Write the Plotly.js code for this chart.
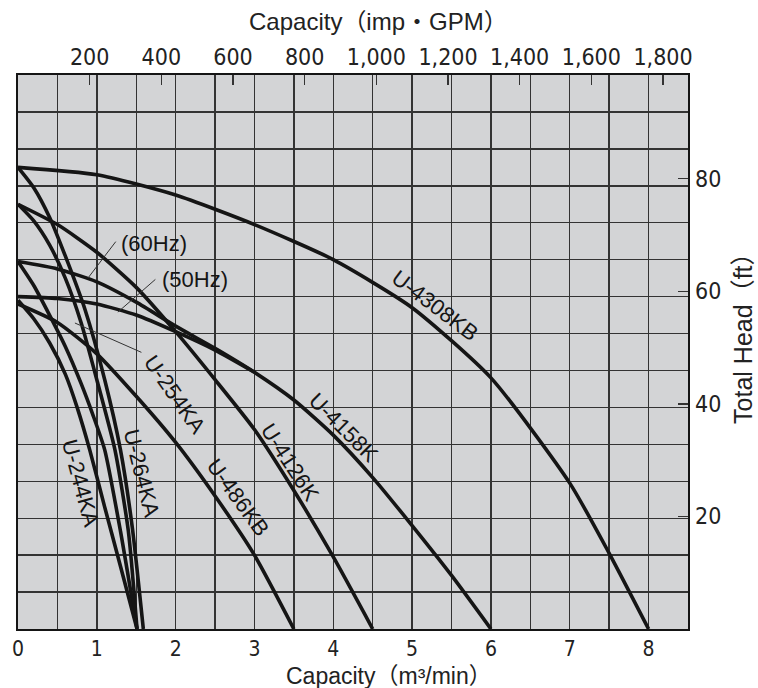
<!DOCTYPE html>
<html><head><meta charset="utf-8">
<script src="https://cdn.plot.ly/plotly-3.0.1.min.js"></script>
<style>html,body{margin:0;padding:0;background:#fff}</style>
</head><body><div id="chart" style="width:758px;height:688px"></div>
<script>
// unit conversions for secondary axes
const M3MIN_TO_IMPGPM = 219.969;
const M_TO_FT = 3.28084;
const X_MAX = 8.5;   // m3/min
const Y_MAX = 30;    // m (hidden primary axis)

// Capacity (m3/min) / Total head (m)
const q_U4308KB = [0, 1, 2, 3, 4, 5, 6, 7, 7.5, 8];
const h_U4308KB = [25.0, 24.6, 23.5, 21.9, 20.0, 17.4, 13.6, 7.9, 4.1, 0];

const q_U4158K_60 = [0, 0.5, 1, 1.5, 2, 2.5, 3, 3.5, 4, 4.5, 5, 5.5, 6];
const h_U4158K_60 = [19.9, 19.5, 18.8, 17.7, 16.4, 15.2, 13.9, 12.4, 10.5, 8.2, 5.6, 2.9, 0];

const q_U4158K_50 = [0, 0.5, 1, 1.5, 2, 2.5, 3];
const h_U4158K_50 = [18.0, 17.9, 17.6, 17.0, 16.1, 15.1, 13.9];

const q_U4126K = [0, 0.5, 1, 1.5, 2, 2.5, 3, 3.5, 4, 4.5];
const h_U4126K = [23.0, 21.9, 20.4, 18.5, 16.1, 13.5, 10.8, 7.5, 3.9, 0];

const q_U486KB = [0, 0.5, 1, 1.5, 2, 2.5, 3, 3.5];
const h_U486KB = [17.6, 16.6, 14.9, 12.6, 10.1, 7.2, 4.0, 0];

const q_U264KA = [0, 0.2, 0.4, 0.6, 0.85, 1.1, 1.3, 1.45, 1.59];
const h_U264KA = [25.0, 23.9, 22.3, 20.2, 17.3, 13.5, 9.7, 5.5, 0];

const q_U254KA = [0, 0.2, 0.4, 0.6, 0.8, 1.0, 1.23, 1.4, 1.51];
const h_U254KA = [23.0, 22.1, 20.8, 19.0, 16.6, 13.5, 9.7, 5.3, 0];

const q_U254KA_b = [0, 0.2, 0.4, 0.6, 0.8, 0.95, 1.1, 1.3, 1.51];
const h_U254KA_b = [19.9, 18.6, 17.0, 15.3, 13.3, 11.6, 9.7, 5.3, 0];

const q_U244KA = [0, 0.2, 0.4, 0.6, 0.75, 0.91, 1.1, 1.3, 1.51];
const h_U244KA = [17.8, 16.8, 15.5, 13.8, 12.0, 9.7, 6.6, 3.4, 0];

// tick labels
const capTicks = [0, 1, 2, 3, 4, 5, 6, 7, 8];
const gpmTicks = [200, 400, 600, 800, 1000, 1200, 1400, 1600, 1800];
const ftTicks = [20, 40, 60, 80];

const INK = '#151515';
const GRID = '#333333';
const NARROW = 'Liberation Sans Narrow, DejaVu Sans Condensed, Liberation Sans, sans-serif';
const SANS = 'Liberation Sans, Arial, Noto Sans CJK JP, sans-serif';

function curve(q, h, name) {
  return {x: q, y: h, name: name, type: 'scatter', mode: 'lines',
    line: {color: INK, width: 3.6, shape: 'spline', smoothing: 0.6},
    hoverinfo: 'skip', showlegend: false, xaxis: 'x', yaxis: 'y'};
}

const data = [
  curve(q_U4308KB, h_U4308KB, 'U-4308KB'),
  curve(q_U4158K_60, h_U4158K_60, 'U-4158K (60Hz)'),
  curve(q_U4158K_50, h_U4158K_50, 'U-4158K (50Hz)'),
  curve(q_U4126K, h_U4126K, 'U-4126K'),
  curve(q_U486KB, h_U486KB, 'U-486KB'),
  curve(q_U264KA, h_U264KA, 'U-264KA'),
  curve(q_U254KA, h_U254KA, 'U-254KA'),
  curve(q_U254KA_b, h_U254KA_b, 'U-254KA b'),
  curve(q_U244KA, h_U244KA, 'U-244KA'),
  // carriers for the secondary axes
  {x: [0, X_MAX * M3MIN_TO_IMPGPM], y: [null, null], xaxis: 'x2', yaxis: 'y', mode: 'lines', showlegend: false, hoverinfo: 'skip'},
  {x: [null, null], y: [0, Y_MAX * M_TO_FT], xaxis: 'x', yaxis: 'y2', mode: 'lines', showlegend: false, hoverinfo: 'skip'}
];

function label(text, x, y, angle) {
  return {text: text, x: x, y: y, xref: 'x', yref: 'y', showarrow: false,
    textangle: angle, font: {family: SANS, size: 22, color: INK}};
}
function leader(x, y, ax, ay) {
  return {text: '', x: x, y: y, xref: 'x', yref: 'y', showarrow: true,
    arrowhead: 0, arrowwidth: 1, arrowcolor: '#333', ax: ax, ay: ay};
}
function axisTitle(text, x, y, angle, size) {
  return {text: text, x: x, y: y, xref: 'paper', yref: 'paper', showarrow: false,
    xanchor: 'center', yanchor: 'middle', textangle: angle,
    font: {family: SANS, size: size, color: '#222'}};
}

const layout = {
  width: 758, height: 688,
  margin: {l: 18, r: 70, t: 75, b: 59, pad: 0},
  paper_bgcolor: '#ffffff', plot_bgcolor: '#d3d4d6',
  showlegend: false,
  xaxis: {
    range: [0, X_MAX], tickvals: capTicks, showgrid: true, gridcolor: GRID, gridwidth: 1.4,
    minor: {dtick: 0.5, tick0: 0, showgrid: true, gridcolor: GRID, gridwidth: 1.4, ticks: ''},
    zeroline: false, showline: true, mirror: true, linecolor: INK, linewidth: 2,
    ticks: '', ticklabelstandoff: 0, automargin: false,
    tickfont: {family: NARROW, size: 21, color: '#222'}
  },
  xaxis2: {
    overlaying: 'x', side: 'top', anchor: 'y', range: [0, X_MAX * M3MIN_TO_IMPGPM],
    tickvals: gpmTicks, tickformat: ',d', ticks: 'inside', ticklen: 10, tickwidth: 1.4, tickcolor: '#333',
    showgrid: false, zeroline: false, showline: false, automargin: false, ticklabelstandoff: 4,
    tickfont: {family: NARROW, size: 23, color: '#222'}
  },
  yaxis: {
    range: [0, Y_MAX], dtick: 2, tick0: 0, showgrid: true, gridcolor: GRID, gridwidth: 1.4,
    showticklabels: false, ticks: '', zeroline: false, showline: true, mirror: true,
    linecolor: INK, linewidth: 2, automargin: false
  },
  yaxis2: {
    overlaying: 'y', side: 'right', anchor: 'x', range: [0, Y_MAX * M_TO_FT],
    tickvals: ftTicks, ticks: 'inside', ticklen: 10, tickwidth: 1.4, tickcolor: '#333',
    showgrid: false, zeroline: false, showline: false, automargin: false, ticklabelstandoff: 6,
    tickfont: {family: NARROW, size: 23, color: '#222'}
  },
  annotations: [
    axisTitle('Capacity（imp・GPM）', 0.538, 1.096, 0, 24),
    axisTitle('Capacity（m³/min）', 0.553, -0.085, 0, 23),
    axisTitle('Total Head（ft）', 1.081, 0.535, -90, 25),
    label('U-4308KB', 5.29, 17.5, 37),
    label('U-4158K', 4.13, 10.9, 45),
    label('U-4126K', 3.45, 9.0, 57),
    label('U-486KB', 2.79, 7.1, 54),
    label('U-254KA', 1.99, 12.7, 55),
    label('U-264KA', 1.565, 8.4, 76),
    label('U-244KA', 0.80, 7.9, 75),
    label('(60Hz)', 1.724, 20.9, 0),
    label('(50Hz)', 2.243, 18.9, 0),
    leader(0.887, 19.0, 29, -38),
    leader(1.267, 17.16, 39, -34),
    leader(0.722, 16.57, 68, 30)
  ]
};

Plotly.newPlot('chart', data, layout, {staticPlot: true, displayModeBar: false});
</script>
</body></html>
